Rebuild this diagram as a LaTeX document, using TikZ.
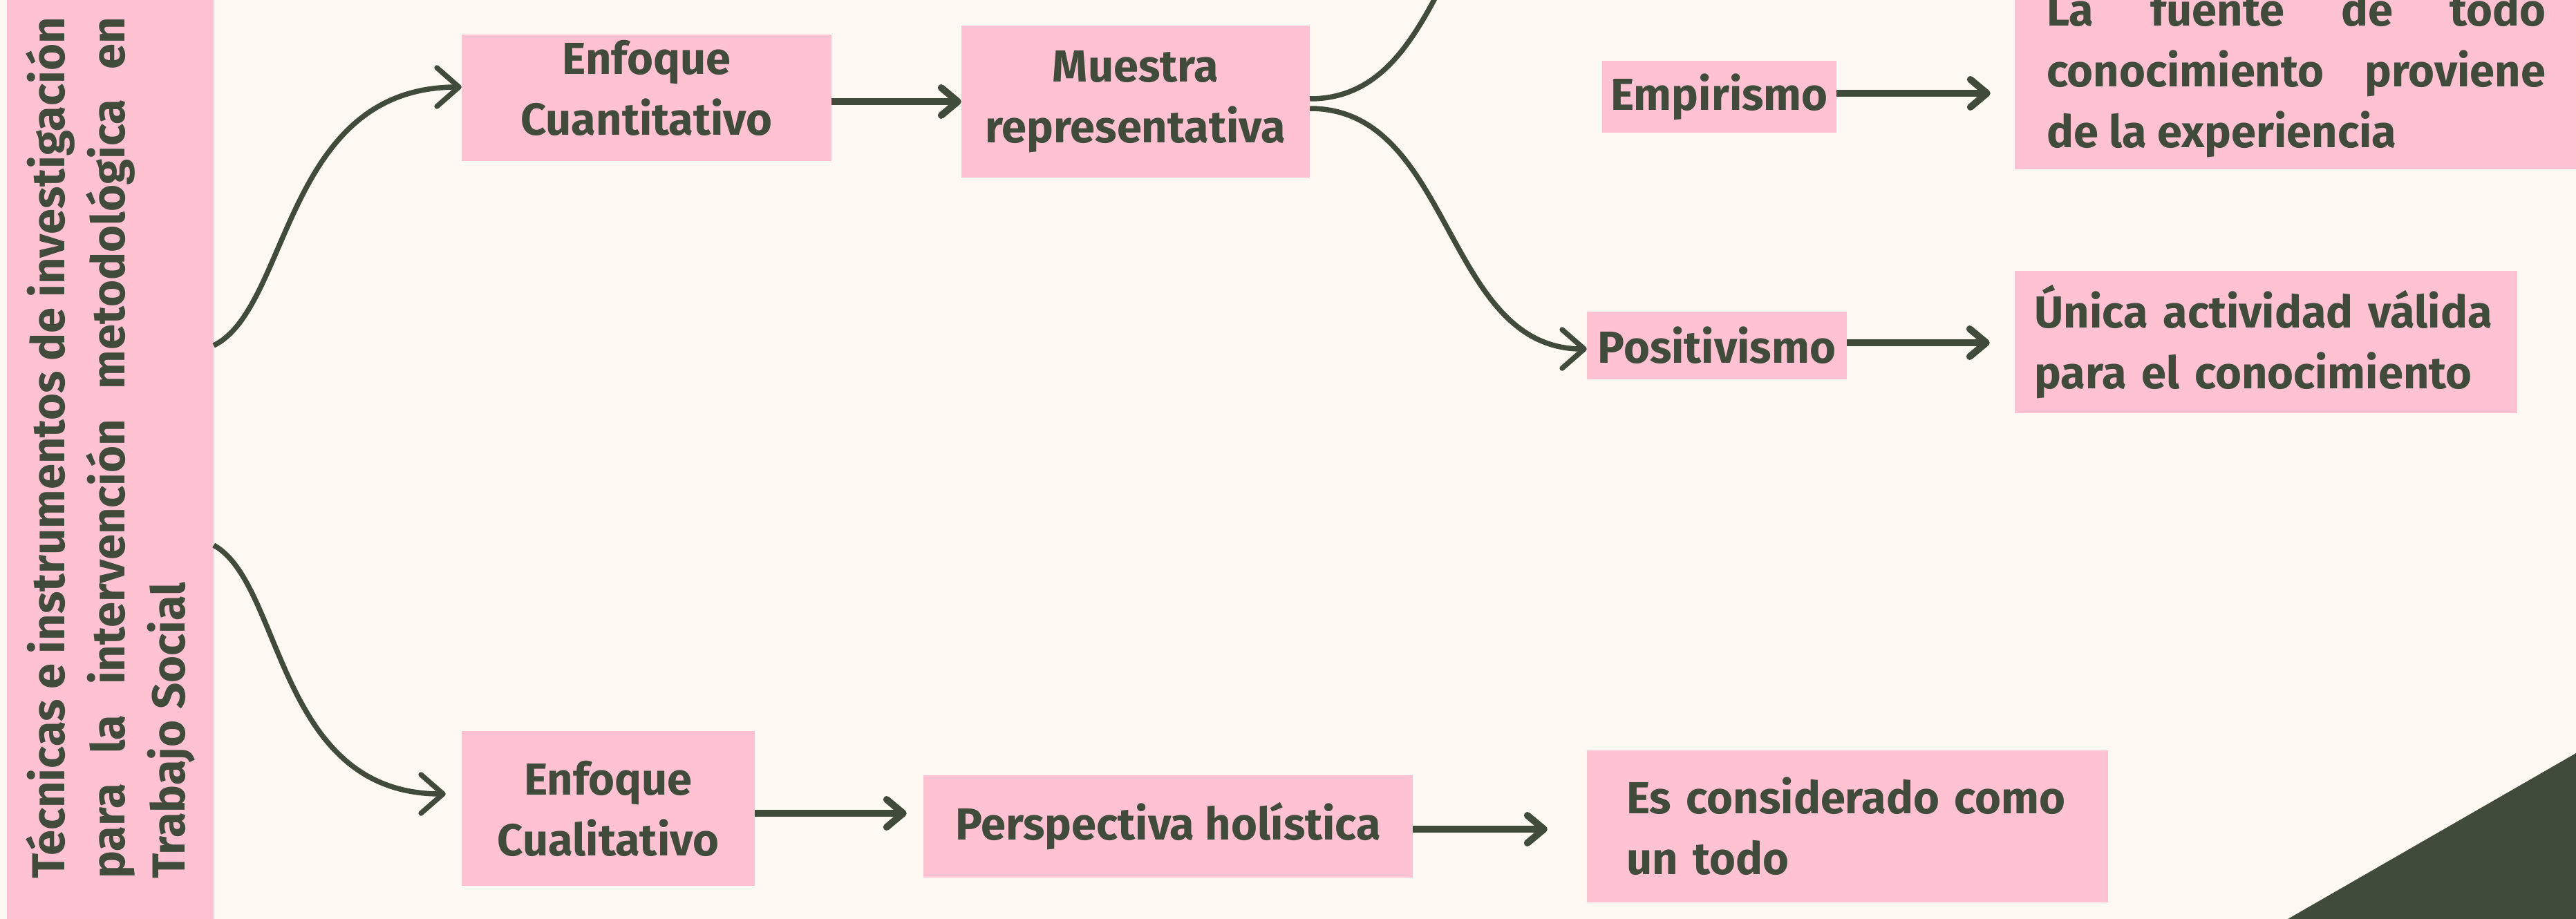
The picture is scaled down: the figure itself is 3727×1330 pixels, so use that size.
\documentclass[tikz,border=0pt]{standalone}
\usepackage{fontspec}
\setmainfont{Fira Sans}
\usetikzlibrary{arrows.meta}
\definecolor{bgc}{HTML}{FDF9F2}
\definecolor{pinkc}{HTML}{FFC2D2}
\definecolor{darkc}{HTML}{414B3B}
\hyphenpenalty=10000
\exhyphenpenalty=10000
\newcommand\txtfont{\bfseries\fontsize{65}{88}\selectfont}
\newcommand\bigtxtfont{\bfseries\fontsize{67}{87}\selectfont}
\tikzset{
  box/.style={fill=pinkc, inner sep=0pt, text=darkc, font=\txtfont},
  curv/.style={draw=darkc, line width=7.5pt, -{Straight Barb[round,length=32pt,width=56pt]}},
  strarr/.style={draw=darkc, line width=10pt, -{Straight Barb[round,length=24pt,width=40pt]}},
}
\begin{document}
\begin{tikzpicture}[x=1pt,y=-1pt]
\useasboundingbox (0,0) rectangle (3727,1330);
\clip (0,0) rectangle (3727,1330);
\fill[bgc] (0,0) rectangle (3727,1330);
% decorative triangle
\fill[darkc] (3310,1330) -- (3727,1090) -- (3727,1330) -- cycle;

% nodes
\node[box, font=\bigtxtfont, rotate=90, minimum width=1400, minimum height=299,
      text width=1247, align=justify] (main) at (159.5,648)
  {Técnicas e instrumentos de investigación\linebreak para la intervención metodológica en\linebreak Trabajo Social};
\node[box, minimum width=535, minimum height=183, align=center, text depth=30pt] (cuant) at (935.5,141.5)
  {Enfoque\\Cuantitativo};
\node[box, minimum width=504, minimum height=220, align=center] (muestra) at (1643,147)
  {Muestra\\representativa};
\node[box, minimum width=339, minimum height=104] (empir) at (2487.5,140) {Empirismo};
\node[box, minimum width=814, minimum height=273, text width=722, align=justify] (fuente) at (3322,108.5)
  {La fuente de todo\linebreak conocimiento proviene\linebreak de la experiencia};
\node[box, minimum width=376, minimum height=98] (posit) at (2484,500) {Positivismo};
\node[box, minimum width=727, minimum height=206, text width=670, align=left] (unica) at (3278.5,495)
  {Única actividad válida\\para el conocimiento};
\node[box, minimum width=424, minimum height=224, align=center] (cual) at (880,1170)
  {Enfoque\\Cualitativo};
\node[box, minimum width=708, minimum height=148] (persp) at (1690,1196) {Perspectiva holística};
\node[box, minimum width=754, minimum height=220, text width=640, align=left] (escons) at (2673,1196)
  {Es considerado como\\un todo};
\coordinate (offtop) at (2296,-219);

% connectors
\draw[curv] ([yshift=148pt]main.south) .. controls +(111,-55) and +(-258,0) .. ([yshift=15.5pt]cuant.west);
\draw[curv] ([yshift=-141pt]main.south) .. controls +(101,56) and +(-245,0) .. ([xshift=-23pt,yshift=21pt]cual.west);
\draw[strarr] ([yshift=-5.5pt]cuant.east) -- (muestra.west);
\draw[curv] ([yshift=4pt]muestra.east) to[out=0,in=180] (offtop);
\draw[curv] ([yshift=-10pt]muestra.east) to[out=0,in=180] ([yshift=-5pt]posit.west);
\draw[strarr] ([yshift=5pt]empir.east) -- ([xshift=-35pt,yshift=5pt]empir.east -| fuente.west);
\draw[strarr] ([yshift=4pt]posit.east) -- ([xshift=-36pt,yshift=4pt]posit.east -| unica.west);
\draw[strarr] ([yshift=-7pt]cual.east) -- ([xshift=-24pt,yshift=-7pt]cual.east -| persp.west);
\draw[strarr] ([yshift=-4pt]persp.east) -- ([xshift=-57pt,yshift=-4pt]persp.east -| escons.west);
\end{tikzpicture}
\end{document}
